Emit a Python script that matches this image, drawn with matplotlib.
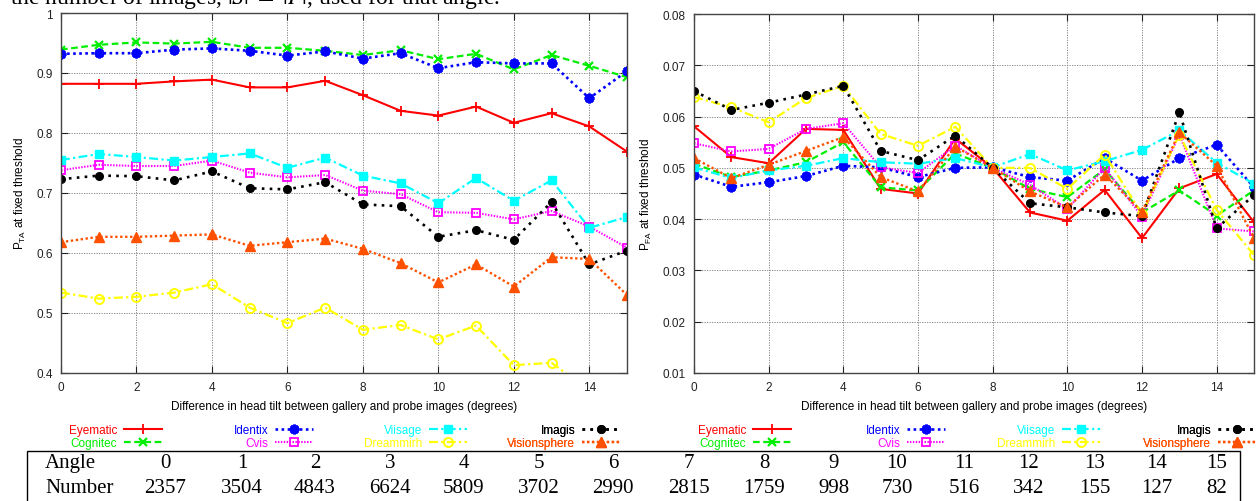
import matplotlib
matplotlib.use("Agg")
import matplotlib.pyplot as plt
from matplotlib.ticker import MultipleLocator, FormatStrFormatter
from matplotlib.patches import Rectangle

plt.rcParams['font.family'] = ['Liberation Sans', 'DejaVu Sans']

# ---- data -------------------------------------------------------------
angles = list(range(16))
systems = ["Eyematic", "Cognitec", "Identix", "Cvis",
           "Viisage", "Dreammirh", "Imagis", "Visionsphere"]

pta_eyematic = [.882, .882, .882, .886, .889, .876, .876, .887, .863, .837, .829, .844, .817, .833, .811, .769]
pta_cognitec = [.939, .947, .951, .949, .952, .942, .942, .937, .930, .938, .923, .932, .906, .930, .912, .893]
pta_identix = [.932, .933, .933, .939, .941, .937, .929, .936, .924, .933, .908, .918, .916, .916, .858, .903]
pta_cvis = [.738, .747, .745, .745, .754, .734, .726, .730, .704, .698, .668, .667, .656, .670, .644, .609]
pta_viisage = [.755, .765, .760, .754, .760, .766, .742, .759, .729, .716, .683, .725, .687, .721, .642, .660]
pta_dreammirh = [.534, .524, .527, .534, .548, .509, .483, .509, .472, .480, .456, .479, .413, .417, .371, .360]
pta_imagis = [.723, .729, .728, .721, .736, .708, .706, .718, .681, .678, .627, .638, .622, .685, .581, .604]
pta_visionsphere = [.618, .627, .627, .629, .631, .612, .618, .624, .607, .583, .551, .581, .544, .593, .590, .530]

pfa_eyematic = [.0581, .0521, .0509, .0576, .0574, .0459, .0450, .0557, .0500, .0413, .0397, .0457, .0363, .0460, .0488, .0394]
pfa_cognitec = [.0508, .0482, .0495, .0511, .0550, .0462, .0456, .0528, .0500, .0459, .0443, .0497, .0413, .0456, .0407, .0456]
pfa_identix = [.0487, .0463, .0472, .0484, .0504, .0501, .0482, .0500, .0501, .0482, .0475, .0519, .0475, .0519, .0545, .0462]
pfa_cvis = [.0548, .0532, .0537, .0576, .0587, .0501, .0490, .0543, .0500, .0467, .0420, .0500, .0405, .0565, .0382, .0376]
pfa_viisage = [.0501, .0480, .0495, .0504, .0519, .0511, .0508, .0519, .0501, .0527, .0495, .0513, .0535, .0573, .0510, .0469]
pfa_dreammirh = [.0638, .0618, .0589, .0636, .0660, .0566, .0543, .0580, .0500, .0500, .0459, .0526, .0410, .0565, .0418, .0330]
pfa_imagis = [.0650, .0613, .0627, .0643, .0660, .0533, .0515, .0563, .0500, .0431, .0423, .0413, .0406, .0608, .0382, .0447]
pfa_visionsphere = [.0519, .0480, .0506, .0533, .0560, .0482, .0454, .0541, .0500, .0454, .0423, .0487, .0414, .0569, .0504, .0363]

table_angles = [str(a) for a in range(16)]
table_numbers = ["2357", "3504", "4843", "6624", "5809", "3702", "2990", "2815",
                 "1759", "998", "730", "516", "342", "155", "127", "82"]

pta = [pta_eyematic, pta_cognitec, pta_identix, pta_cvis,
       pta_viisage, pta_dreammirh, pta_imagis, pta_visionsphere]
pfa = [pfa_eyematic, pfa_cognitec, pfa_identix, pfa_cvis,
       pfa_viisage, pfa_dreammirh, pfa_imagis, pfa_visionsphere]

# ---- styles (gnuplot-like) -------------------------------------------
styles = [
    dict(color='#ff0000', ls='-', lw=1.5, marker='+', ms=7, mew=1.3, mfc='#ff0000'),
    dict(color='#00ee00', ls=(0, (3, 1.6)), lw=1.6, marker='x', ms=6, mew=1.6, mfc='#00ee00'),
    dict(color='#0000ff', ls=(0, (1, 1.3)), lw=1.9, marker=(8, 2, 0), ms=7, mew=2.0, mfc='#0000ff'),
    dict(color='#ff00ff', ls=(0, (0.7, 0.7)), lw=1.5, marker='s', ms=6, mew=1.3, mfc='none'),
    dict(color='#00ffff', ls=(0, (4, 1.5, 1, 1.5)), lw=1.6, marker='s', ms=5.5, mew=1, mfc='#00ffff'),
    dict(color='#ffff00', ls=(0, (4, 1.5, 1, 1.5)), lw=1.6, marker='o', ms=6.5, mew=1.4, mfc='none'),
    dict(color='#000000', ls=(0, (1, 2)), lw=1.9, marker='o', ms=5.5, mew=1, mfc='#000000'),
    dict(color='#ff5000', ls=(0, (1, 1.1)), lw=1.7, marker='^', ms=7, mew=1, mfc='#ff5000'),
]

W, H = 1256, 502
fig = plt.figure(figsize=(W / 100, H / 100), dpi=100)


def fx(px):
    return px / W


def fy(py):
    return 1 - py / H


ax1 = fig.add_axes([fx(61), fy(374), fx(627) - fx(61), fy(14) - fy(374)])
ax2 = fig.add_axes([fx(694), fy(374), fx(1254) - fx(694), fy(15) - fy(374)])

for ax, series in ((ax1, pta), (ax2, pfa)):
    for name, vals, st in zip(systems, series, styles):
        ax.plot(angles, vals, label=name, color=st['color'], linestyle=st['ls'],
                linewidth=st['lw'], marker=st['marker'], markersize=st['ms'],
                markeredgewidth=st['mew'], markerfacecolor=st['mfc'],
                markeredgecolor=st['color'])
    ax.set_xlim(0, 15)
    ax.xaxis.set_major_locator(MultipleLocator(2))
    ax.grid(True, color='#777777', linestyle=(0, (1.5, 1.5)), linewidth=0.6)
    ax.set_axisbelow(True)
    ax.tick_params(direction='in', top=True, right=True, length=5, width=0.8,
                   labelsize=8.5, pad=6, colors='#222222')
    for sp in ax.spines.values():
        sp.set_color('#444444')
        sp.set_linewidth(1.0)
    ax.set_xlabel('Difference in head tilt between gallery and probe images (degrees)',
                  fontsize=8.5, labelpad=5)

ax1.set_ylim(0.4, 1.0)
ax1.yaxis.set_major_locator(MultipleLocator(0.1))
ax1.yaxis.set_major_formatter(FormatStrFormatter('%g'))
ax1.set_ylabel(r'$\mathregular{P_{TA}}$ at fixed threshold', fontsize=8.5, labelpad=6)

ax2.set_ylim(0.01, 0.08)
ax2.yaxis.set_major_locator(MultipleLocator(0.01))
ax2.yaxis.set_major_formatter(FormatStrFormatter('%g'))
ax2.set_ylabel(r'$\mathregular{P_{FA}}$ at fixed threshold', fontsize=8.5, labelpad=6)

# ---- legends: four right-aligned columns under each plot -------------
legend_cols = {ax1: [162, 313, 467, 620], ax2: [791, 945, 1100, 1256]}
for ax, col_right in legend_cols.items():
    handles, labels = ax.get_legend_handles_labels()
    for c, xr in enumerate(col_right):
        leg = ax.legend(handles[2 * c:2 * c + 2], labels[2 * c:2 * c + 2],
                        loc='upper right', bbox_to_anchor=(fx(xr), fy(425)),
                        bbox_transform=fig.transFigure, frameon=False,
                        markerfirst=False, numpoints=1, fontsize=8.5,
                        handlelength=3.2, handletextpad=0.6, labelspacing=0.1,
                        borderpad=0, borderaxespad=0, labelcolor='linecolor')
        ax.add_artist(leg)

# ---- caption fragment at the top ---------------------------------------
fig.text(fx(10), fy(4), r'the number of images, $|S|\ =\ |P|$, used for that angle.',
         fontsize=17, family='Liberation Serif', math_fontfamily='stix',
         va='baseline', ha='left')

# ---- table of image counts --------------------------------------------
fig.add_artist(Rectangle((fx(27), fy(520)), fx(1240) - fx(27), fy(452) - fy(520),
                         transform=fig.transFigure, fill=False,
                         edgecolor='black', linewidth=1.0))
col_x = [165, 242, 315, 390, 464, 539, 613, 689, 764, 834, 897, 964, 1029, 1095, 1157, 1217]
row_y = [464, 489]
fig.text(fx(45), fy(row_y[0]), 'Angle', fontsize=15, family='Liberation Serif',
         ha='left', va='center')
fig.text(fx(45), fy(row_y[1]), 'Number', fontsize=15, family='Liberation Serif',
         ha='left', va='center')
for xc, a, n in zip(col_x, table_angles, table_numbers):
    fig.text(fx(xc), fy(row_y[0]), a, fontsize=15, family='Liberation Serif',
             ha='center', va='center')
    fig.text(fx(xc), fy(row_y[1]), n, fontsize=15, family='Liberation Serif',
             ha='center', va='center')

fig.savefig('out.png', dpi=100)
